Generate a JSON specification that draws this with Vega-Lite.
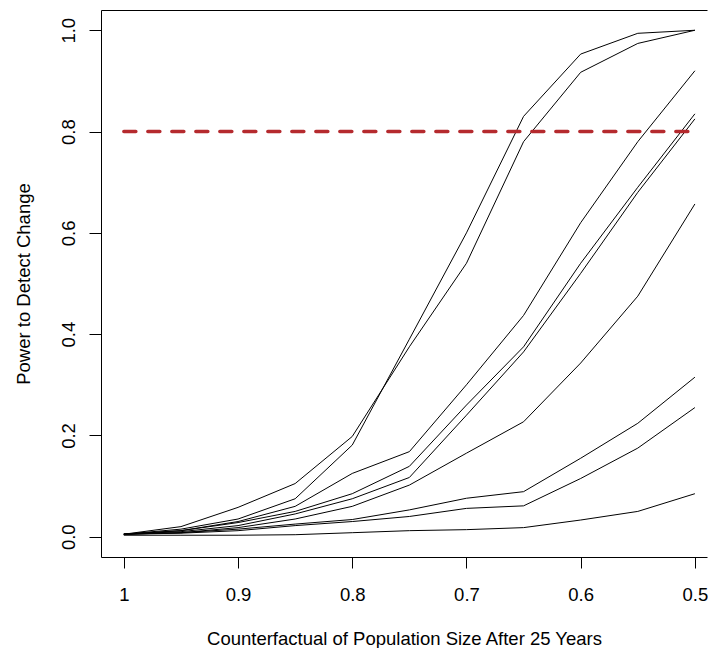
{
  "$schema": "https://vega.github.io/schema/vega-lite/v6.json",
  "width": 606,
  "height": 547,
  "autosize": {"type": "none"},
  "padding": {"left": 101, "top": 10, "right": 1, "bottom": 91},
  "background": "white",
  "config": {
    "view": {"stroke": null},
    "font": "Liberation Sans",
    "axis": {
      "grid": false,
      "domainColor": "black",
      "domainWidth": 1,
      "tickColor": "black",
      "tickWidth": 1,
      "labelColor": "black",
      "titleColor": "black",
      "labelFont": "Liberation Sans",
      "titleFont": "Liberation Sans",
      "labelFontSize": 18.5,
      "titleFontSize": 18.5,
      "titleFontWeight": "normal",
      "labelFlush": false,
      "labelOverlap": false,
      "labelBound": false
    },
    "axisBottom": {
      "tickSize": 11,
      "labelBaseline": "alphabetic",
      "labelPadding": 32,
      "titleBaseline": "alphabetic",
      "titleY": 87,
      "titleX": 303,
      "titleAlign": "center"
    },
    "axisLeft": {
      "tickSize": 12,
      "labelAngle": 270,
      "labelAlign": "center",
      "labelBaseline": "alphabetic",
      "labelPadding": 15,
      "titleAngle": 270,
      "titleAlign": "center",
      "titleBaseline": "alphabetic",
      "titleX": -72,
      "titleY": 273.5
    },
    "axisTop": {"labels": false, "ticks": false, "domain": true}
  },
  "datasets": {
    "power": [
      {"s": "A", "x": 1.0, "y": 0.005}, {"s": "A", "x": 0.95, "y": 0.015}, {"s": "A", "x": 0.9, "y": 0.035}, {"s": "A", "x": 0.85, "y": 0.075}, {"s": "A", "x": 0.8, "y": 0.181}, {"s": "A", "x": 0.75, "y": 0.39}, {"s": "A", "x": 0.7, "y": 0.6}, {"s": "A", "x": 0.65, "y": 0.83}, {"s": "A", "x": 0.6, "y": 0.953}, {"s": "A", "x": 0.55, "y": 0.994}, {"s": "A", "x": 0.5, "y": 1.0},
      {"s": "B", "x": 1.0, "y": 0.005}, {"s": "B", "x": 0.95, "y": 0.02}, {"s": "B", "x": 0.9, "y": 0.058}, {"s": "B", "x": 0.85, "y": 0.105}, {"s": "B", "x": 0.8, "y": 0.198}, {"s": "B", "x": 0.75, "y": 0.375}, {"s": "B", "x": 0.7, "y": 0.54}, {"s": "B", "x": 0.65, "y": 0.78}, {"s": "B", "x": 0.6, "y": 0.917}, {"s": "B", "x": 0.55, "y": 0.974}, {"s": "B", "x": 0.5, "y": 1.0},
      {"s": "C", "x": 1.0, "y": 0.005}, {"s": "C", "x": 0.95, "y": 0.012}, {"s": "C", "x": 0.9, "y": 0.03}, {"s": "C", "x": 0.85, "y": 0.06}, {"s": "C", "x": 0.8, "y": 0.125}, {"s": "C", "x": 0.75, "y": 0.168}, {"s": "C", "x": 0.7, "y": 0.3}, {"s": "C", "x": 0.65, "y": 0.437}, {"s": "C", "x": 0.6, "y": 0.62}, {"s": "C", "x": 0.55, "y": 0.78}, {"s": "C", "x": 0.5, "y": 0.92},
      {"s": "D", "x": 1.0, "y": 0.005}, {"s": "D", "x": 0.95, "y": 0.012}, {"s": "D", "x": 0.9, "y": 0.028}, {"s": "D", "x": 0.85, "y": 0.05}, {"s": "D", "x": 0.8, "y": 0.085}, {"s": "D", "x": 0.75, "y": 0.139}, {"s": "D", "x": 0.7, "y": 0.26}, {"s": "D", "x": 0.65, "y": 0.375}, {"s": "D", "x": 0.6, "y": 0.54}, {"s": "D", "x": 0.55, "y": 0.69}, {"s": "D", "x": 0.5, "y": 0.835},
      {"s": "E", "x": 1.0, "y": 0.005}, {"s": "E", "x": 0.95, "y": 0.01}, {"s": "E", "x": 0.9, "y": 0.022}, {"s": "E", "x": 0.85, "y": 0.045}, {"s": "E", "x": 0.8, "y": 0.075}, {"s": "E", "x": 0.75, "y": 0.117}, {"s": "E", "x": 0.7, "y": 0.24}, {"s": "E", "x": 0.65, "y": 0.365}, {"s": "E", "x": 0.6, "y": 0.52}, {"s": "E", "x": 0.55, "y": 0.68}, {"s": "E", "x": 0.5, "y": 0.825},
      {"s": "G", "x": 1.0, "y": 0.005}, {"s": "G", "x": 0.95, "y": 0.008}, {"s": "G", "x": 0.9, "y": 0.018}, {"s": "G", "x": 0.85, "y": 0.035}, {"s": "G", "x": 0.8, "y": 0.06}, {"s": "G", "x": 0.75, "y": 0.102}, {"s": "G", "x": 0.7, "y": 0.165}, {"s": "G", "x": 0.65, "y": 0.227}, {"s": "G", "x": 0.6, "y": 0.343}, {"s": "G", "x": 0.55, "y": 0.475}, {"s": "G", "x": 0.5, "y": 0.657},
      {"s": "H", "x": 1.0, "y": 0.005}, {"s": "H", "x": 0.95, "y": 0.008}, {"s": "H", "x": 0.9, "y": 0.015}, {"s": "H", "x": 0.85, "y": 0.025}, {"s": "H", "x": 0.8, "y": 0.034}, {"s": "H", "x": 0.75, "y": 0.053}, {"s": "H", "x": 0.7, "y": 0.076}, {"s": "H", "x": 0.65, "y": 0.089}, {"s": "H", "x": 0.6, "y": 0.155}, {"s": "H", "x": 0.55, "y": 0.224}, {"s": "H", "x": 0.5, "y": 0.315},
      {"s": "I", "x": 1.0, "y": 0.005}, {"s": "I", "x": 0.95, "y": 0.007}, {"s": "I", "x": 0.9, "y": 0.012}, {"s": "I", "x": 0.85, "y": 0.022}, {"s": "I", "x": 0.8, "y": 0.03}, {"s": "I", "x": 0.75, "y": 0.04}, {"s": "I", "x": 0.7, "y": 0.056}, {"s": "I", "x": 0.65, "y": 0.061}, {"s": "I", "x": 0.6, "y": 0.115}, {"s": "I", "x": 0.55, "y": 0.175}, {"s": "I", "x": 0.5, "y": 0.255},
      {"s": "J", "x": 1.0, "y": 0.003}, {"s": "J", "x": 0.95, "y": 0.003}, {"s": "J", "x": 0.9, "y": 0.003}, {"s": "J", "x": 0.85, "y": 0.004}, {"s": "J", "x": 0.8, "y": 0.008}, {"s": "J", "x": 0.75, "y": 0.012}, {"s": "J", "x": 0.7, "y": 0.014}, {"s": "J", "x": 0.65, "y": 0.018}, {"s": "J", "x": 0.6, "y": 0.033}, {"s": "J", "x": 0.55, "y": 0.05}, {"s": "J", "x": 0.5, "y": 0.085}
    ],
    "threshold": [{"x": 1.0, "x2": 0.5, "y": 0.8}]
  },
  "layer": [
    {
      "data": {"name": "power"},
      "mark": {"type": "line", "color": "black", "strokeWidth": 1, "interpolate": "linear"},
      "encoding": {
        "x": {
          "field": "x", "type": "quantitative",
          "scale": {"domain": [1.02, 0.4894], "nice": false, "zero": false},
          "axis": {"orient": "bottom", "values": [1, 0.9, 0.8, 0.7, 0.6, 0.5], "format": "~g"},
          "title": "Counterfactual of Population Size After 25 Years"
        },
        "y": {
          "field": "y", "type": "quantitative",
          "scale": {"domain": [-0.04, 1.04], "nice": false, "zero": false},
          "axis": {"values": [0, 0.2, 0.4, 0.6, 0.8, 1], "format": ".1f"},
          "title": "Power to Detect Change"
        },
        "detail": {"field": "s", "type": "nominal"}
      }
    },
    {
      "data": {"name": "threshold"},
      "mark": {"type": "rule", "color": "#b52a2e", "strokeWidth": 3.5, "strokeDash": [12, 12], "strokeCap": "round"},
      "encoding": {
        "x": {
          "field": "x", "type": "quantitative",
          "scale": {"domain": [1.02, 0.4894], "nice": false, "zero": false},
          "axis": {"orient": "top", "labels": false, "ticks": false, "title": null}
        },
        "x2": {"field": "x2"},
        "y": {
          "field": "y", "type": "quantitative",
          "axis": {"values": [0, 0.2, 0.4, 0.6, 0.8, 1], "format": ".1f"},
          "title": "Power to Detect Change"
        }
      }
    }
  ],
  "resolve": {"axis": {"x": "independent"}}
}
